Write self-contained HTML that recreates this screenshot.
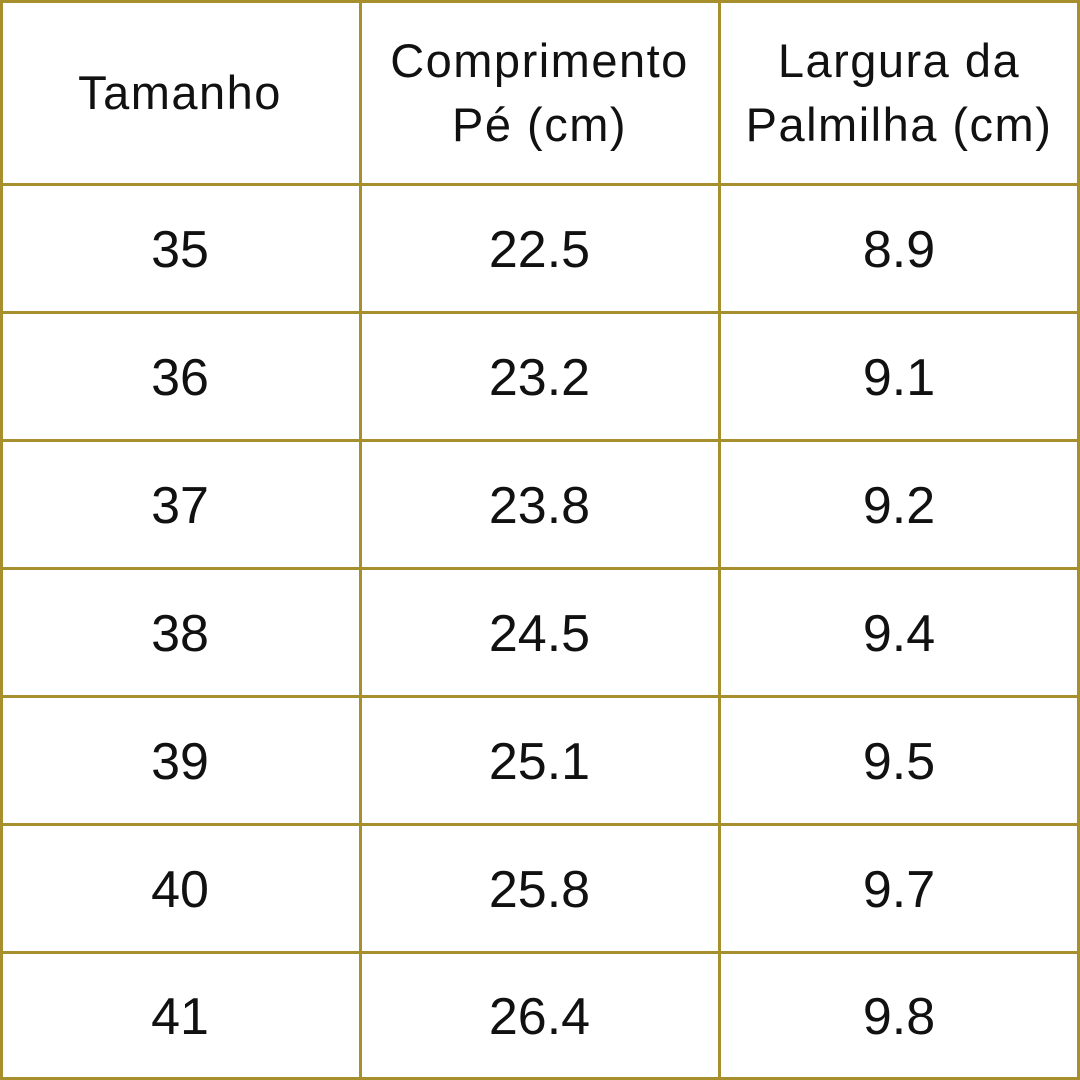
<!DOCTYPE html>
<html><head><meta charset="utf-8"><style>
html,body{margin:0;padding:0;background:#fff;}
#c{position:relative;width:1080px;height:1080px;overflow:hidden;font-family:"Liberation Sans",sans-serif;color:#111;}
.v{position:absolute;top:0;width:3px;height:1080px;background:#A88F2E;}
.h{position:absolute;left:0;height:3px;width:1080px;background:#A88F2E;}
.t{position:absolute;display:flex;align-items:center;justify-content:center;text-align:center;}
.hd{font-size:47px;line-height:64px;letter-spacing:1.5px;}
.b{font-size:52px;}
</style></head><body><div id="c">
<div class="v" style="left:0"></div><div class="v" style="left:359px"></div><div class="v" style="left:718px"></div><div class="v" style="left:1077px"></div>
<div class="h" style="top:0"></div><div class="h" style="top:183px"></div><div class="h" style="top:311px"></div><div class="h" style="top:439px"></div><div class="h" style="top:567px"></div><div class="h" style="top:695px"></div><div class="h" style="top:823px"></div><div class="h" style="top:951px"></div><div class="h" style="top:1077px"></div>
<div class="t hd" style="left:0;width:360px;top:0;height:186px">Tamanho</div>
<div class="t hd" style="left:360px;width:359px;top:0;height:186px">Comprimento<br>Pé (cm)</div>
<div class="t hd" style="left:719px;width:360px;top:0;height:186px">Largura da<br>Palmilha (cm)</div>
<div class="t b" style="left:0;width:360px;top:186px;height:128px">35</div><div class="t b" style="left:360px;width:359px;top:186px;height:128px">22.5</div><div class="t b" style="left:719px;width:360px;top:186px;height:128px">8.9</div>
<div class="t b" style="left:0;width:360px;top:314px;height:128px">36</div><div class="t b" style="left:360px;width:359px;top:314px;height:128px">23.2</div><div class="t b" style="left:719px;width:360px;top:314px;height:128px">9.1</div>
<div class="t b" style="left:0;width:360px;top:442px;height:128px">37</div><div class="t b" style="left:360px;width:359px;top:442px;height:128px">23.8</div><div class="t b" style="left:719px;width:360px;top:442px;height:128px">9.2</div>
<div class="t b" style="left:0;width:360px;top:570px;height:128px">38</div><div class="t b" style="left:360px;width:359px;top:570px;height:128px">24.5</div><div class="t b" style="left:719px;width:360px;top:570px;height:128px">9.4</div>
<div class="t b" style="left:0;width:360px;top:698px;height:128px">39</div><div class="t b" style="left:360px;width:359px;top:698px;height:128px">25.1</div><div class="t b" style="left:719px;width:360px;top:698px;height:128px">9.5</div>
<div class="t b" style="left:0;width:360px;top:826px;height:128px">40</div><div class="t b" style="left:360px;width:359px;top:826px;height:128px">25.8</div><div class="t b" style="left:719px;width:360px;top:826px;height:128px">9.7</div>
<div class="t b" style="left:0;width:360px;top:954px;height:126px">41</div><div class="t b" style="left:360px;width:359px;top:954px;height:126px">26.4</div><div class="t b" style="left:719px;width:360px;top:954px;height:126px">9.8</div>
</div></body></html>
